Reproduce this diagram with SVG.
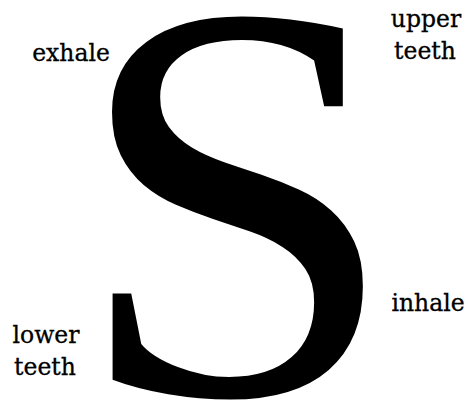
<svg xmlns="http://www.w3.org/2000/svg" width="468" height="401" viewBox="0 0 468 401">
<style>
.lbl{font-family:"DejaVu Serif","Liberation Serif",serif;font-size:23.5px;fill:#000;stroke:#000;stroke-width:0.3;text-anchor:middle}
.big{font-family:"Liberation Serif","DejaVu Serif",serif;font-size:570px;fill:#000;text-anchor:middle}
</style>
<rect width="468" height="401" fill="#fff"/>
<g id="letter"><text class="big" x="0" y="0" transform="translate(236 394) scale(1.03 1)">S</text></g>
<g id="exhale"><text class="lbl" x="71" y="61">exhale</text></g>
<g id="upper-teeth"><text class="lbl" x="426" y="27">upper</text><text class="lbl" x="425" y="59">teeth</text></g>
<g id="inhale"><text class="lbl" x="428" y="311">inhale</text></g>
<g id="lower-teeth"><text class="lbl" x="46" y="343">lower</text><text class="lbl" x="45" y="375">teeth</text></g>
<g id="connectors"/>
</svg>
